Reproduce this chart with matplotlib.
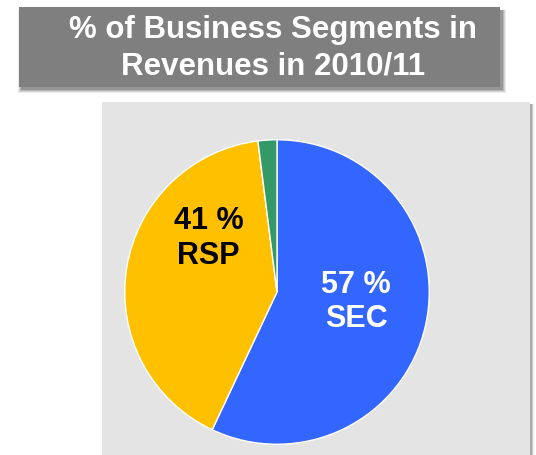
import matplotlib
matplotlib.use("Agg")
import matplotlib.pyplot as plt
from matplotlib.patches import Rectangle

title = "% of Business Segments in\nRevenues in 2010/11"
segments = ["SEC", "RSP", "Other"]
shares = [57, 41, 2]
colors = ["#3366FF", "#FFC000", "#339966"]
label_colors = ["white", "black", "white"]

W, H = 536, 455
fig = plt.figure(figsize=(W / 100, H / 100), dpi=100)
fig.patch.set_facecolor("white")

def px_rect(x0, y0, x1, y1, **kw):
    # pixel coords with y measured from top
    return Rectangle((x0 / W, 1 - y1 / H), (x1 - x0) / W, (y1 - y0) / H,
                     transform=fig.transFigure, antialiased=False, **kw)

# title box shadow
for i, a in enumerate([0.08, 0.10, 0.13, 0.18]):
    d = 4 - i
    fig.patches.append(px_rect(22 - d, 10, 502 + d, 89 + d, facecolor="#000000",
                               alpha=a, edgecolor="none", zorder=0))
fig.patches.append(px_rect(19, 7, 500, 87, facecolor="#7f7f7f", edgecolor="none", zorder=1))
fig.text(273 / W, 1 - 48 / H, title, ha="center", va="center", color="white",
         fontsize=22.5, fontweight="bold", family="Liberation Sans", linespacing=1.3, zorder=2)

# panel shadow
for i, a in enumerate([0.08, 0.12, 0.18]):
    d = 3 - i
    fig.patches.append(px_rect(106, 104, 531 + d, 460, facecolor="#000000",
                               alpha=a, edgecolor="none", zorder=0))
fig.patches.append(px_rect(102, 102, 530, 460, facecolor="#e4e4e4", edgecolor="none", zorder=1))

cx, cy, r = 277, 292, 153
ax = fig.add_axes([(cx - r) / W, 1 - (cy + r) / H, 2 * r / W, 2 * r / H])
ax.set_zorder(3)
ax.patch.set_alpha(0)

wedges, texts = ax.pie(shares, colors=colors, startangle=90, counterclock=False,
                       wedgeprops=dict(edgecolor="white", linewidth=1.0))
ax.set_xlim(-1.005, 1.005)
ax.set_ylim(-1.005, 1.005)
ax.set_aspect("equal")
ax.axis("off")

label_pos = {"SEC": (0.52, -0.065), "RSP": (-0.45, 0.35)}
for name, val, col in zip(segments, shares, label_colors):
    if name in label_pos:
        x, y = label_pos[name]
        ax.text(x, y, f"{val} %\n{name}", ha="center", va="center", color=col,
                fontsize=22, fontweight="bold", family="Liberation Sans", linespacing=1.2)

fig.savefig("out.png", dpi=100)
